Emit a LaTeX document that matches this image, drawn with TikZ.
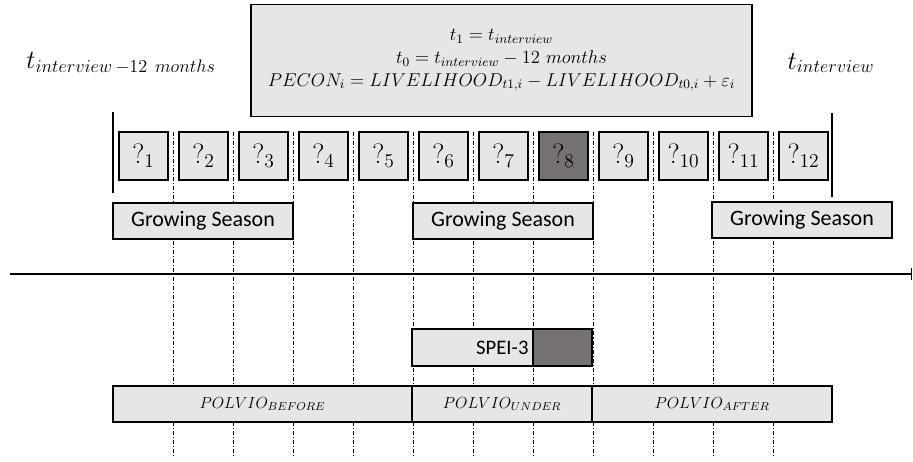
\documentclass[tikz,border=0pt]{standalone}
\usepackage{fix-cm}
\usepackage{fontspec}
\newfontfamily\carl{Carlito}
\usetikzlibrary{arrows.meta}
\definecolor{boxgray}{RGB}{231,230,230}
\definecolor{darkfill}{RGB}{118,113,113}
\newcommand\polsub[1]{\mbox{\fontsize{8.6}{9}\selectfont$#1$}}
\begin{document}
\begin{tikzpicture}[x=0.75pt,y=-0.75pt,
  box/.style={draw=black, line width=1.2pt, fill=boxgray, inner sep=0pt},
  month/.style={box, minimum width=36.75pt, minimum height=36pt, font=\fontsize{21}{21}\selectfont},
  season/.style={box, minimum width=135pt, minimum height=27pt, font=\carl\fontsize{16.5}{17}\selectfont},
  polvio/.style={box, minimum height=27pt, font=\fontsize{12}{12}\selectfont},
  gridline/.style={line width=0.5pt, dash pattern=on 3pt off 1.5pt on 0.8pt off 1.5pt},
  bar/.style={line width=1.5pt}]
\useasboundingbox (0,0) rectangle (913,461);
% dash-dot month separators
\foreach \i in {0,...,10} {
  \coordinate (g\i t) at ({173+60*\i},132);
  \coordinate (g\i b) at ({173+60*\i},457);
  \draw[gridline] (g\i t) -- (g\i b);
}
% title box
\node[box, minimum width=375.75pt, minimum height=84pt, align=center,
      font=\fontsize{13.9}{17}\selectfont] (title) at (501.5,60.5)
  {$t_1 = t_{interview}$\\
   $t_0 = t_{interview} - 12\ months$\\
   $PECON_i = LIVELIHOOD_{t1,i} - LIVELIHOOD_{t0,i} + \varepsilon_i$};
% labels
\node[font=\fontsize{19.5}{20}\selectfont] (tstart) at (121,63) {$t_{interview\,-12\ months}$};
\node[font=\fontsize{19.5}{20}\selectfont] (tend) at (831,63) {$t_{interview}$};
% bars
\coordinate (lbt) at (113,112); \coordinate (lbb) at (113,193);
\coordinate (rbt) at (832,113); \coordinate (rbb) at (832,197);
\draw[bar] (lbt) -- (lbb);
\draw[bar] (rbt) -- (rbb);
% months
\foreach \i in {1,...,7,9,10,11,12} {
  \node[month] (m\i) at ({143.5+60*(\i-1)},156) {$?_{\i}$};
}
\node[month, fill=darkfill] (m8) at (563.5,156) {$?_{8}$};
% growing seasons
\node[season] (gs1) at (203,221) {Growing Season};
\node[season] (gs2) at (503,221) {Growing Season};
\node[season] (gs3) at (802,220) {Growing Season};
% axis
\coordinate (axL) at (10,274); \coordinate (axR) at (912,274);
\draw[line width=0.8pt, -{Bar[width=8.5pt, line width=0.8pt]}] (axL) -- (axR);
% SPEI
\node[box, minimum width=90.75pt, minimum height=27.75pt, text width=84pt, align=right,
      font=\carl\fontsize{15.5}{16}\selectfont] (spei) at (472.5,347.5) {SPEI-3};
\node[box, fill=darkfill, minimum width=44.25pt, minimum height=27.75pt] (speid) at (562.5,347.5) {};
% POLVIO
\node[polvio, minimum width=224.25pt] (pb) at (262.5,404) {$POLVIO_{\polsub{BEFORE}}$};
\node[polvio, minimum width=135pt] (pu) at (502,404) {$POLVIO_{\polsub{UNDER}}$};
\node[polvio, minimum width=180pt] (pa) at (712,404) {$POLVIO_{\polsub{AFTER}}$};
\end{tikzpicture}
\end{document}
